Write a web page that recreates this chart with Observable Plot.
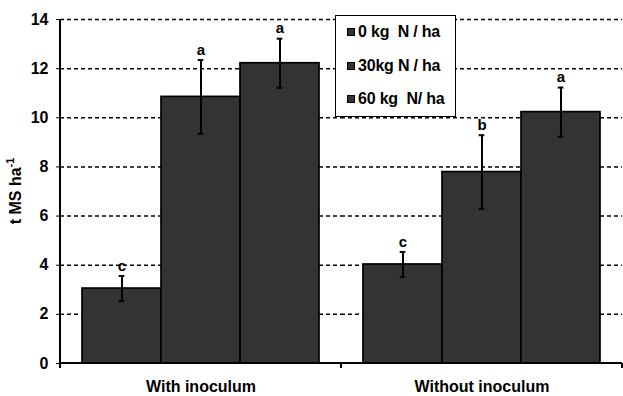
<!DOCTYPE html>
<html>
<head>
<meta charset="utf-8">
<script src="https://cdn.jsdelivr.net/npm/d3@7"></script>
<script src="https://cdn.jsdelivr.net/npm/@observablehq/plot@0.6"></script>
<style>
  html, body { margin: 0; padding: 0; background: white; }
  #wrap { position: relative; width: 623px; height: 396px; font-family: "Liberation Sans", Arial, sans-serif; }
  #legend { position: absolute; left: 335px; top: 15px; width: 119px; height: 100px; border: 1.5px solid black; background: white; font-weight: bold; font-size: 16px; letter-spacing: -0.2px; }
  .item { position: absolute; left: 11px; display: flex; align-items: center; white-space: pre; }
  .sw { width: 6px; height: 6px; background: #333333; border: 1px solid black; margin-right: 3px; }
</style>
</head>
<body>
<div id="wrap"><div id="legend"></div></div>
<script>
const groups = ["With inoculum", "Without inoculum"];
const series = ["0 kg  N / ha", "30kg N / ha", "60 kg  N/ ha"];
const withInoculum = [3.05, 10.85, 12.22];
const withoutInoculum = [4.03, 7.79, 10.23];
const errWith = [0.51, 1.5, 1.0];
const errWithout = [0.51, 1.5, 1.0];
const lettersWith = ["c", "a", "a"];
const lettersWithout = ["c", "b", "a"];
const yTicks = [0, 2, 4, 6, 8, 10, 12, 14];

const data = [];
series.forEach((s, i) => {
  data.push({group: groups[0], series: s, value: withInoculum[i], lo: withInoculum[i] - errWith[i], hi: withInoculum[i] + errWith[i], letter: lettersWith[i]});
});
series.forEach((s, i) => {
  data.push({group: groups[1], series: s, value: withoutInoculum[i], lo: withoutInoculum[i] - errWithout[i], hi: withoutInoculum[i] + errWithout[i], letter: lettersWithout[i]});
});

const plot = Plot.plot({
  width: 623, height: 396,
  marginLeft: 60, marginRight: 1, marginTop: 19, marginBottom: 33,
  style: {fontFamily: "'Liberation Sans', Arial, sans-serif", fontWeight: "bold", fontSize: "16px", color: "black", background: "white", overflow: "visible"},
  fx: {domain: groups, padding: 0, label: null},
  x: {domain: series, paddingInner: 0, paddingOuter: 0.27, axis: null},
  y: {domain: [0, 14], label: null},
  marks: [
    Plot.gridY(yTicks.filter(d => d > 0), {stroke: "black", strokeOpacity: 1, strokeDasharray: "4,3", strokeWidth: 1.5}),
    Plot.barY(data, {fx: "group", x: "series", y: "value", fill: "#333333", stroke: "black", strokeWidth: 1.7}),
    Plot.ruleX(data, {fx: "group", x: "series", y1: "lo", y2: "hi", stroke: "black", strokeWidth: 2}),
    Plot.tickY(data, {fx: "group", x: "series", y: "lo", stroke: "black", strokeWidth: 2, insetLeft: 36.7, insetRight: 36.7}),
    Plot.tickY(data, {fx: "group", x: "series", y: "hi", stroke: "black", strokeWidth: 2, insetLeft: 36.7, insetRight: 36.7}),
    Plot.text(data, {fx: "group", x: "series", y: "hi", text: "letter", dy: -10, fontSize: 15, fontWeight: "bold", fill: "black"}),
    Plot.axisY({ticks: yTicks, tickSize: 4, tickPadding: 8, fontSize: 16, fontWeight: "bold", label: null, tickFormat: d => d}),
    Plot.axisFx({anchor: "bottom", tickSize: 0, tickPadding: 17, fontSize: 16, fontWeight: "bold", label: null})
  ]
});

document.getElementById("wrap").prepend(plot);

// axis lines and group-boundary ticks drawn from the plot's own scales
const fx = plot.scale("fx");
const y = plot.scale("y");
const svg = d3.select(plot.tagName.toLowerCase() === "svg" ? plot : plot.querySelector("svg"));
const left = fx.apply(groups[0]);
const bw = fx.bandwidth;
const y0 = y.apply(0), yTop = y.apply(14);
const g = svg.append("g").attr("stroke", "black").attr("stroke-width", 2);
g.append("line").attr("x1", left).attr("x2", left).attr("y1", yTop).attr("y2", y0 + 5);
g.append("line").attr("x1", left).attr("x2", fx.apply(groups[1]) + bw).attr("y1", y0).attr("y2", y0);
groups.forEach(gr => {
  const xr = fx.apply(gr) + bw;
  g.append("line").attr("x1", xr).attr("x2", xr).attr("y1", y0).attr("y2", y0 + 5);
});
// y axis title with superscript
const t = svg.append("text")
  .attr("transform", `translate(21,${(y0 + yTop) / 2}) rotate(-90)`)
  .attr("text-anchor", "middle")
  .attr("font-size", 16).attr("font-weight", "bold").attr("fill", "black");
t.append("tspan").text("t MS ha");
t.append("tspan").attr("dy", -7).attr("font-size", 11).text("-1");

// legend
const legend = document.getElementById("legend");
series.forEach((s, i) => {
  const d = document.createElement("div");
  d.className = "item";
  d.style.top = (7 + i * 33.5) + "px";
  d.innerHTML = `<span class="sw"></span><span></span>`;
  d.lastChild.textContent = s;
  legend.appendChild(d);
});
</script>
</body>
</html>
